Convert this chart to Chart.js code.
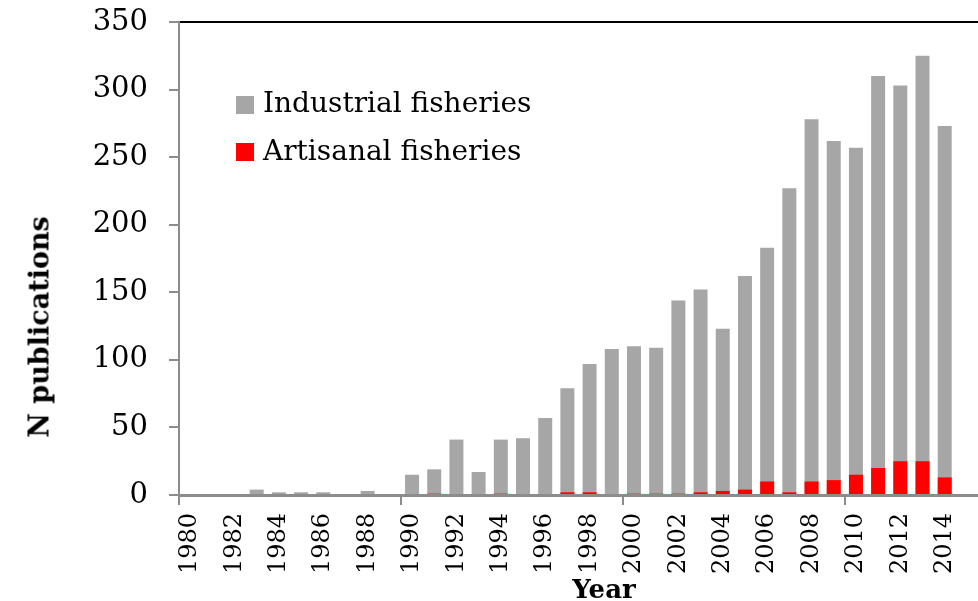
<!DOCTYPE html>
<html>
<head>
<meta charset="utf-8">
<script src="https://cdn.jsdelivr.net/npm/chart.js@4.4.0/dist/chart.umd.min.js"></script>
<style>
  body { margin: 0; background: #fff; overflow: hidden; }
  #wrap { position: relative; width: 978px; height: 601px; }
  .txt { position: absolute; font-family: "DejaVu Serif", serif; color: #000; white-space: nowrap; line-height: 1; }
  .sw { position: absolute; width: 18px; height: 18px; }
</style>
</head>
<body>
<div id="wrap">
  <canvas id="mycanvas" width="978" height="601"></canvas>
  <div class="sw" style="left:236px;top:96px;background:#a6a6a6"></div>
  <div class="txt" style="left:263px;top:89px;font-size:28px">Industrial fisheries</div>
  <div class="sw" style="left:236px;top:143px;background:#ff0000"></div>
  <div class="txt" style="left:263px;top:137px;font-size:28px">Artisanal fisheries</div>
  <div class="txt" style="left:39px;top:327px;font-size:27px;font-weight:bold;transform:translate(-50%,-50%) rotate(-90deg)">N publications</div>
  <div class="txt" style="left:604px;top:589px;font-size:26px;font-weight:bold;transform:translate(-50%,-50%)">Year</div>
</div>
<script>
// years shown on the axis (last slot is the cropped edge of the plot)
var years = ['1980','1981','1982','1983','1984','1985','1986','1987','1988','1989',
             '1990','1991','1992','1993','1994','1995','1996','1997','1998','1999',
             '2000','2001','2002','2003','2004','2005','2006','2007','2008','2009',
             '2010','2011','2012','2013','2014',''];

var industrial = [0, 0, 0, 4, 2, 2, 2, 0, 3, 0,
                  15, 19, 41, 17, 41, 42, 57, 79, 97, 108,
                  110, 109, 144, 152, 123, 162, 183, 227, 278, 262,
                  257, 310, 303, 325, 273];

var artisanal = [0, 0, 0, 0, 0, 0, 0, 0, 0, 0,
                 0, 1, 0, 0, 1, 0, 0, 2, 2, 0,
                 1, 1, 1, 2, 3, 4, 10, 2, 10, 11,
                 15, 20, 25, 25, 13];

var yTicks = [0, 50, 100, 150, 200, 250, 300, 350];

var axisGrey = '#8c8c8c';

function noPad(s) {
  s.paddingLeft = 0; s.paddingRight = 0;
  s.paddingTop = 0; s.paddingBottom = 0;
}

var chartdata = {
  labels: years,
  datasets: [
    {
      label: 'Artisanal fisheries',
      backgroundColor: '#ff0000',
      data: artisanal
    },
    {
      label: 'Industrial fisheries',
      backgroundColor: '#a6a6a6',
      data: industrial
    }
  ]
};

var ctx = document.getElementById('mycanvas');

var barGraph = new Chart(ctx, {
  type: 'bar',
  data: chartdata,
  options: {
    responsive: false,
    animation: false,
    devicePixelRatio: 1,
    layout: { padding: { top: 22, left: 0, right: 0, bottom: 0 } },
    datasets: {
      bar: { grouped: false, barPercentage: 0.63, categoryPercentage: 1.0 }
    },
    plugins: {
      legend: { display: false },
      tooltip: { enabled: false }
    },
    scales: {
      x: {
        type: 'category',
        position: 'bottom',
        border: { color: axisGrey, width: 3 },
        grid: {
          drawOnChartArea: false,
          tickLength: 10,
          lineWidth: 2,
          color: function(c) { return c.index % 10 === 0 ? axisGrey : 'rgba(0,0,0,0)'; }
        },
        ticks: {
          autoSkip: false,
          minRotation: 90,
          maxRotation: 90,
          padding: 8,
          color: '#000',
          font: { family: 'DejaVu Serif', size: 24 },
          callback: function(v, i) { return i % 2 === 0 ? years[i] : ''; }
        },
        afterFit: function(s) { s.height = 106; noPad(s); }
      },
      xTop: {
        type: 'category',
        position: 'top',
        labels: years,
        border: { color: '#000', width: 2 },
        grid: { display: false, drawTicks: false },
        ticks: { display: false },
        afterFit: function(s) { s.height = 0; noPad(s); }
      },
      y: {
        min: 0,
        max: 350,
        border: { color: axisGrey, width: 2 },
        grid: { drawOnChartArea: false, tickLength: 10, lineWidth: 2, color: axisGrey },
        afterBuildTicks: function(s) { s.ticks = yTicks.map(function(v) { return { value: v }; }); },
        ticks: {
          padding: 21,
          color: '#000',
          font: { family: 'DejaVu Serif', size: 29 }
        },
        afterFit: function(s) { s.width = 179; noPad(s); }
      }
    }
  }
});
</script>
</body>
</html>
